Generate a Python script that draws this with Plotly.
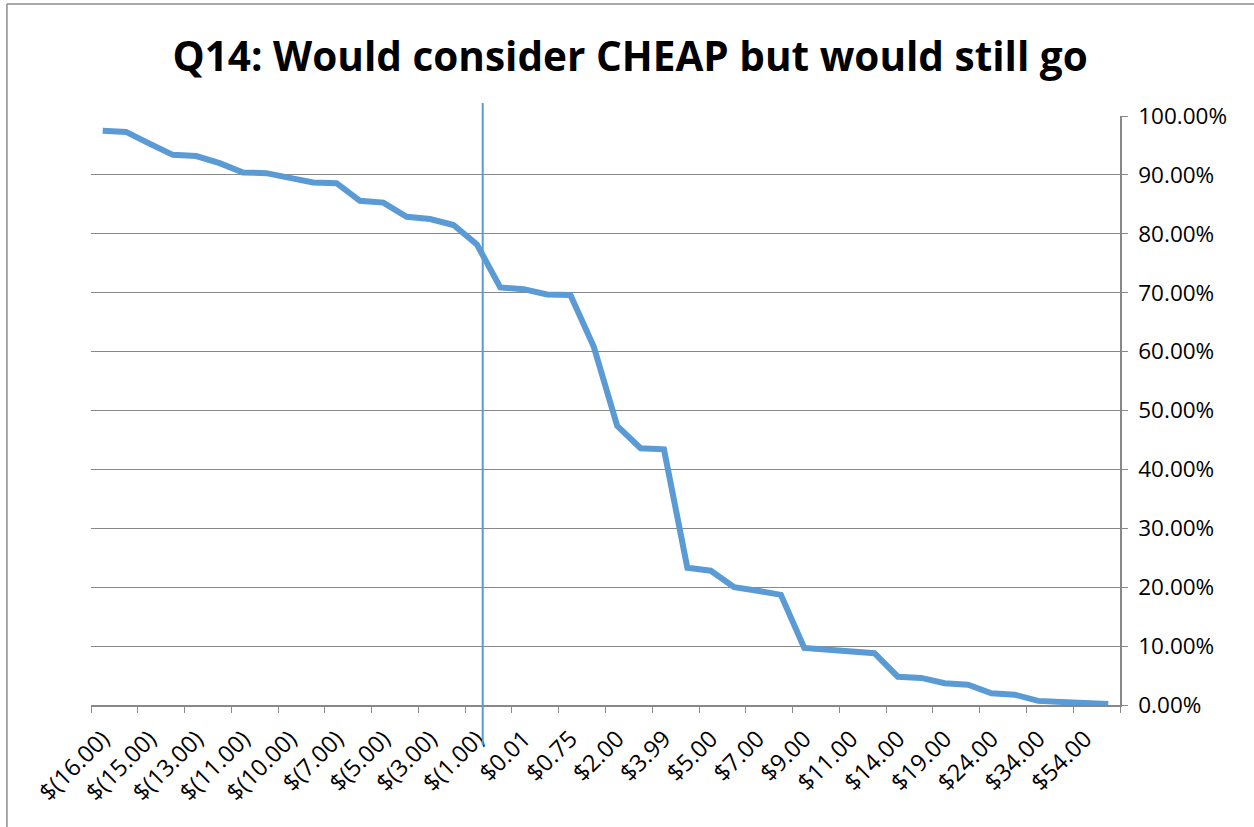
import plotly.graph_objects as go

# ---- data ----
category_index = list(range(44))
share_cheap_still_go = [
    0.975, 0.973, 0.953, 0.934, 0.932, 0.920, 0.904, 0.903, 0.895, 0.887,
    0.886, 0.856, 0.853, 0.829, 0.825, 0.815, 0.782, 0.709, 0.706, 0.697,
    0.696, 0.608, 0.474, 0.436, 0.434, 0.233, 0.228, 0.200, 0.194, 0.187,
    0.097, 0.0945, 0.092, 0.088, 0.048, 0.046, 0.037, 0.0345, 0.020, 0.0175,
    0.007, 0.005, 0.003, 0.0015,
]
tick_labels = [
    "$(16.00)", "$(15.00)", "$(13.00)", "$(11.00)", "$(10.00)", "$(7.00)",
    "$(5.00)", "$(3.00)", "$(1.00)", "$0.01", "$0.75", "$2.00", "$3.99",
    "$5.00", "$7.00", "$9.00", "$11.00", "$14.00", "$19.00", "$24.00",
    "$34.00", "$54.00",
]
tick_positions = category_index[::2]
marker_position = 16.25  # vertical marker between $(1.00) and the next price

LINE_BLUE = "#5B9BD5"
GRID = "#888888"
FONT = "Open Sans"

fig = go.Figure()
fig.add_trace(go.Scatter(
    x=category_index, y=share_cheap_still_go, mode="lines",
    line=dict(color=LINE_BLUE, width=6, shape="linear"),
    hoverinfo="skip", showlegend=False,
))

# vertical marker line
fig.add_shape(type="line", xref="x", yref="paper",
              x0=marker_position, x1=marker_position, y0=-0.068, y1=1.022,
              line=dict(color=LINE_BLUE, width=2))

# chart-area border (left and top visible)
fig.add_shape(type="line", xref="paper", yref="paper",
              x0=-0.0817, x1=-0.0817, y0=-0.5, y1=1.190,
              line=dict(color="#8c8c8c", width=1.5))
fig.add_shape(type="line", xref="paper", yref="paper",
              x0=-0.0817, x1=1.5, y0=1.190, y1=1.190,
              line=dict(color="#8c8c8c", width=1.5))

fig.update_layout(
    width=1254, height=827,
    margin=dict(l=91, r=134, t=116, b=122, pad=0),
    paper_bgcolor="white", plot_bgcolor="white",
    title=dict(
        text="<b>Q14: Would consider CHEAP but would still go</b>",
        x=0.5025, xanchor="center", y=0.931, yanchor="middle",
        font=dict(family=FONT, size=40.5, color="black"),
    ),
    font=dict(family=FONT, color="black"),
)

fig.update_xaxes(
    range=[-0.5, 43.5], automargin=False,
    tickvals=tick_positions, ticktext=tick_labels,
    tickangle=-45, tickfont=dict(family=FONT, size=23.5, color="black"),
    ticks="", showgrid=False, zeroline=False,
    showline=True, linecolor=GRID, linewidth=1.5,
    ticklabelstandoff=9,
    minor=dict(tick0=-0.5, dtick=2, ticks="outside", ticklen=6,
               tickcolor=GRID, tickwidth=1.2, showgrid=False),
)
fig.update_yaxes(
    range=[0, 1], dtick=0.1, tickformat=".2%", side="right", automargin=False,
    tickfont=dict(family=FONT, size=22.5, color="black"),
    ticks="outside", ticklen=6, tickcolor=GRID, tickwidth=1.2,
    showline=True, linecolor=GRID, linewidth=1.5,
    showgrid=True, gridcolor=GRID, gridwidth=1.2, zeroline=False,
    ticklabelstandoff=6,
)

# remove the default 8px page margin so the figure fills the window exactly
fig.write_html(
    "out.html",
    config={"displayModeBar": False},
    post_script="document.body.style.margin='0';document.body.style.overflow='hidden';",
)
